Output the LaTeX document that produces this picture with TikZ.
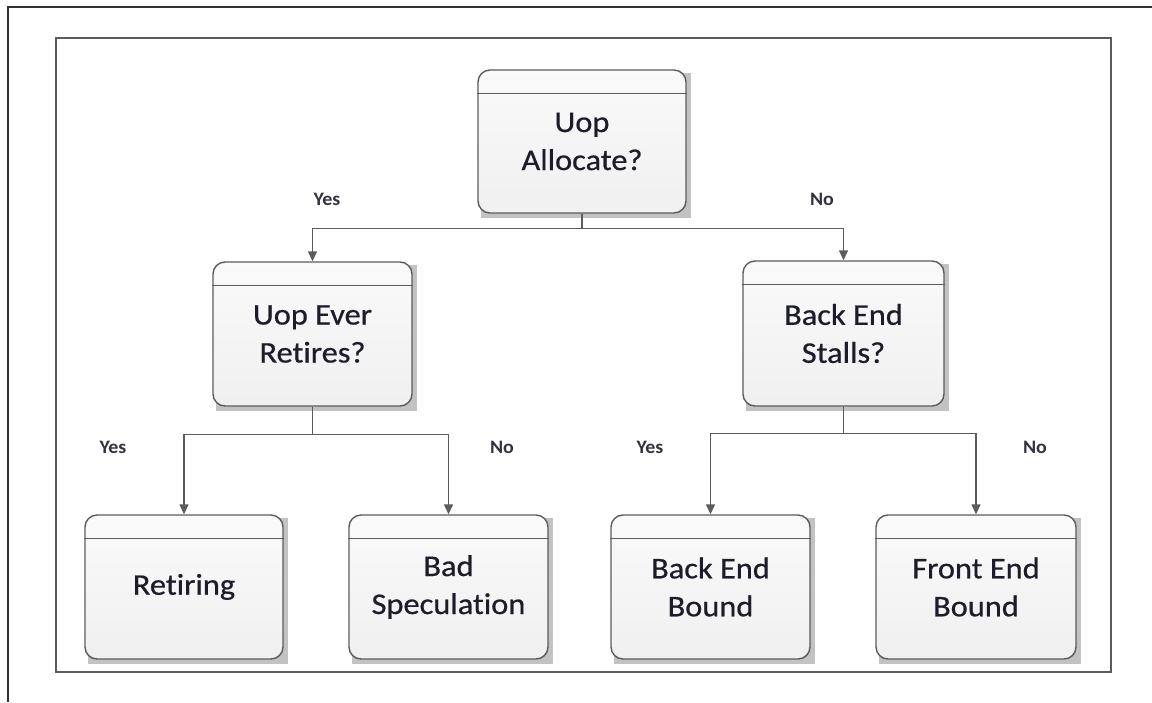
\documentclass[tikz,border=0pt]{standalone}
\usepackage{fontspec}
\setmainfont{Carlito}[Ligatures=NoCommon]
\newfontfamily\boxfont{Carlito}[Ligatures=NoCommon, FakeStretch=1.08, FakeBold=0.6]
\newfontfamily\answerfont{Carlito}[Ligatures=NoCommon, FakeStretch=1.05]
\usetikzlibrary{arrows.meta,backgrounds}

\definecolor{ink}{HTML}{1C1C2A}
\definecolor{edge}{HTML}{5C5C5C}
\definecolor{frameline}{HTML}{333333}
\definecolor{shade}{HTML}{C2C2C2}

\tikzset{
  box/.style={draw=edge, line width=1.4pt, rounded corners=12pt,
    top color=white!98!black, bottom color=white!94!black,
    align=center, text=ink, inner sep=0pt,
    font=\boxfont\fontsize{30}{38}\selectfont},
  conn/.style={draw=edge, line width=1.4pt,
    -{Triangle[length=10pt,width=9pt]}},
  answer/.style={text=ink!90, font=\answerfont\bfseries\fontsize{19}{22}\selectfont},
  boxshadow/.style={fill=shade},
  headerline/.style={draw=edge, line width=1.2pt}
}

\begin{document}
\begin{tikzpicture}[x=1pt,y=-1pt]
  % page extent
  \useasboundingbox (0,0) rectangle (1152,702);

  % outer page lines and inner frame
  \draw[frameline, line width=1.2pt] (1152,7) -- (8,7) -- (8,702);
  \draw[edge, line width=2.4pt] (56,38) rectangle (1111,672);

  % decision and result boxes
  \node[box, minimum width=208pt, minimum height=143pt] (b1) at (582,141.5) {Uop\\Allocate?};
  \node[box, minimum width=199pt, minimum height=144pt] (b2) at (312.5,334) {Uop Ever\\Retires?};
  \node[box, minimum width=201pt, minimum height=145pt] (b3) at (843.5,333.5) {Back End\\Stalls?};
  \node[box, minimum width=198pt, minimum height=144pt] (b4) at (184,587) {Retiring};
  \node[box, minimum width=199pt, minimum height=144pt] (b5) at (448.5,587) {Bad\\Speculation};
  \node[box, minimum width=199pt, minimum height=144pt] (b6) at (710.5,587) {Back End\\Bound};
  \node[box, minimum width=200pt, minimum height=144pt] (b7) at (976,587) {Front End\\Bound};

  % header strip line and drop shadow of every box
  \foreach \n in {b1,b2,b3,b4,b5,b6,b7} {
    \draw[headerline] ([yshift=-24pt]\n.north west) -- ([yshift=-24pt]\n.north east);
    \begin{scope}[on background layer]
      \fill[boxshadow] ([shift={(4,4)}]\n.south west) rectangle ([shift={(4,4)}]\n.north east);
    \end{scope}
  }

  % branching connectors
  \draw[conn] (b1.south) -- ++(0,15) -| (b2.north);
  \draw[conn] (b1.south) -- ++(0,15) -| (b3.north);
  \draw[conn] (b2.south) -- ++(0,28) -| (b4.north);
  \draw[conn] (b2.south) -- ++(0,28) -| (b5.north);
  \draw[conn] (b3.south) -- ++(0,27) -| (b6.north);
  \draw[conn] (b3.south) -- ++(0,27) -| (b7.north);

  % branch answers
  \node[answer] (y1) at (327,199) {Yes};
  \node[answer] (n1) at (822,199) {No};
  \node[answer] (y2) at (113,447) {Yes};
  \node[answer] (n2) at (502,447) {No};
  \node[answer] (y3) at (650,447) {Yes};
  \node[answer] (n3) at (1035,447) {No};
\end{tikzpicture}
\end{document}
